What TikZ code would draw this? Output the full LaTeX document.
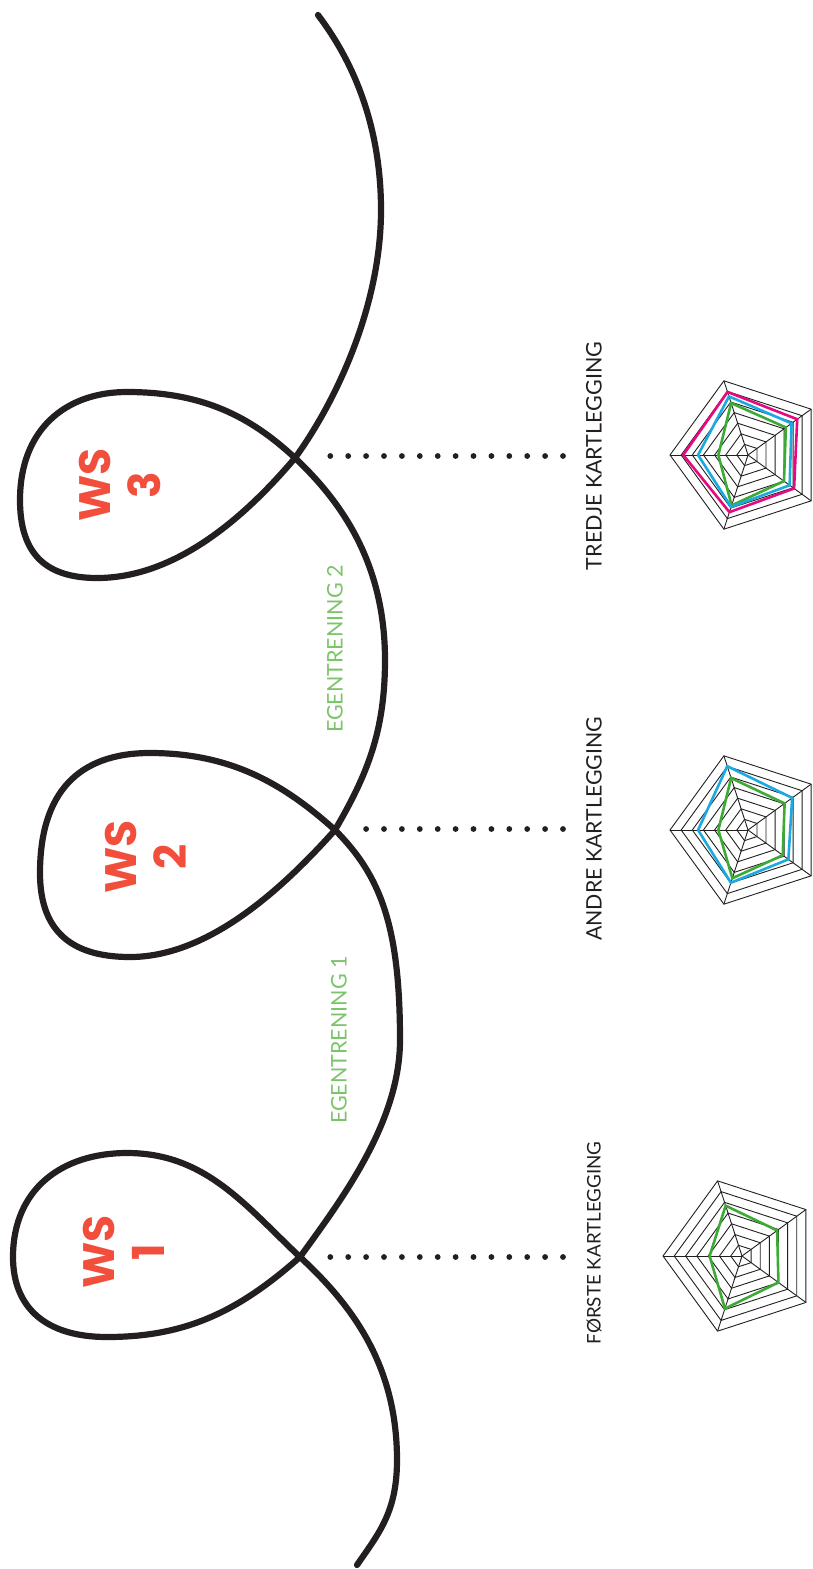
\documentclass[tikz,border=0pt]{standalone}
\usepackage{fontspec}
\setmainfont{Lato}
\newfontfamily\wsfont{Poppins}
\definecolor{ink}{HTML}{231F20}
\definecolor{wsred}{HTML}{F24E3C}
\definecolor{egreen}{HTML}{7CC46A}
\definecolor{rgreen}{HTML}{3DAA35}
\definecolor{rblue}{HTML}{1BA9E1}
\definecolor{rpink}{HTML}{E5097F}
\tikzset{
  loopline/.style={line width=6.2pt, ink, line cap=round, line join=round},
  dotline/.style={line width=5.8pt, ink, line cap=round, dash pattern=on 0pt off 17.9pt},
  gridline/.style={line width=0.9pt, ink, line join=miter},
  dataline/.style={line width=2.6pt, line join=miter},
  wslabel/.style={text=wsred, font=\wsfont\bfseries\fontsize{44}{50}\selectfont, align=center, rotate=90, inner sep=0pt},
  klabel/.style={text=ink, rotate=90, inner sep=0pt},
  elabel/.style={text=egreen, font=\fontsize{21.5}{24}\selectfont, rotate=90, inner sep=0pt},
}
\newcommand\radargrid[3]{%
  \begin{scope}[shift={(#1,#2)}]
    \foreach \k in {1,...,7} {
      \draw[gridline] (180:{\k*#3/7}) -- (-108:{\k*#3/7}) -- (-36:{\k*#3/7}) -- (36:{\k*#3/7}) -- (108:{\k*#3/7}) -- cycle;
    }
    \foreach \a in {180,-108,-36,36,108} { \draw[gridline] (0,0) -- (\a:#3); }
  \end{scope}}
\newcommand\radarpoly[9]{%
  \begin{scope}[shift={(#2,#3)}]
    \draw[dataline, #1] (180:{#5*#4}) -- (-108:{#6*#4}) -- (-36:{#7*#4}) -- (36:{#8*#4}) -- (108:{#9*#4}) -- cycle;
  \end{scope}}
\begin{document}
\begin{tikzpicture}[x=1pt,y=-1pt]
\useasboundingbox (0,0) rectangle (813,1569);
% main looping curve
\draw[loopline]
  (318,15) .. controls +(38,50) and +(0,-80) .. (381,210)
  .. controls +(0,95) and +(42,-58) .. (295,458)
  % loop 3
  .. controls +(-55,65) and +(75,0) .. (97,578)
  .. controls +(-55,0) and +(0,50) .. (20,500)
  .. controls +(0,-70) and +(-62,0) .. (127,392)
  .. controls +(75,0) and +(-45,-42) .. (295,458)
  .. controls +(48,45) and +(0,-95) .. (385,660)
  .. controls +(0,72) and +(32,-55) .. (335,830)
  % loop 2
  .. controls +(-58,65) and +(75,0) .. (130,957)
  .. controls +(-62,0) and +(0,55) .. (40,873)
  .. controls +(0,-80) and +(-72,0) .. (150,753)
  .. controls +(82,0) and +(-50,-45) .. (335,830)
  .. controls +(45,45) and +(0,-115) .. (400,1040)
  .. controls +(0,82) and +(42,-58) .. (300,1257)
  % loop 1
  .. controls +(-62,55) and +(78,0) .. (107,1337)
  .. controls +(-62,0) and +(0,50) .. (13,1257)
  .. controls +(0,-68) and +(-65,0) .. (127,1153)
  .. controls +(78,0) and +(-55,-52) .. (300,1257)
  .. controls +(52,48) and +(0,-95) .. (397,1460)
  .. controls +(0,52) and +(22,-32) .. (357,1565);
% WS labels
\node[wslabel] (ws3) at (120,485) {WS\\3};
\node[wslabel] (ws2) at (146,857) {WS\\2};
\node[wslabel] (ws1) at (124,1252) {WS\\1};
% self-training labels
\node[elabel] (eg2) at (335,649) {EGENTRENING 2};
\node[elabel] (eg1) at (339,1040) {EGENTRENING 1};
% mapping labels
\node[klabel, font=\fontsize{21.5}{24}\selectfont] (k3) at (594,456) {TREDJE KARTLEGGING};
\node[klabel, font=\fontsize{21.3}{24}\selectfont] (k2) at (594,829) {ANDRE KARTLEGGING};
\node[klabel, font=\fontsize{18.8}{24}\selectfont] (k1) at (594,1243) {FØRSTE KARTLEGGING};
% dotted connectors
\coordinate (d3a) at (318,456); \coordinate (d3b) at (563,456);
\coordinate (d2a) at (361,829); \coordinate (d2b) at (563,829);
\coordinate (d1a) at (330,1257); \coordinate (d1b) at (563,1257);
\draw[dotline] (d3b) -- (d3a);
\draw[dotline] (d2b) -- (d2a);
\draw[dotline] (d1b) -- (d1a);
% radar charts
\radargrid{748}{455}{78}
\radarpoly{rgreen}{748}{455}{78}{.38}{.70}{.60}{.57}{.68}
\radarpoly{rblue}{748}{455}{78}{.64}{.79}{.69}{.66}{.70}
\radarpoly{rpink}{748}{455}{78}{.83}{.85}{.78}{.73}{.77}
\radargrid{748}{830}{78}
\radarpoly{rgreen}{748}{830}{78}{.38}{.70}{.58}{.55}{.65}
\radarpoly{rblue}{748}{830}{78}{.64}{.86}{.70}{.64}{.71}
\radargrid{742}{1256}{79}
\radarpoly{rgreen}{742}{1256}{79}{.41}{.67}{.55}{.57}{.70}
\end{tikzpicture}
\end{document}
